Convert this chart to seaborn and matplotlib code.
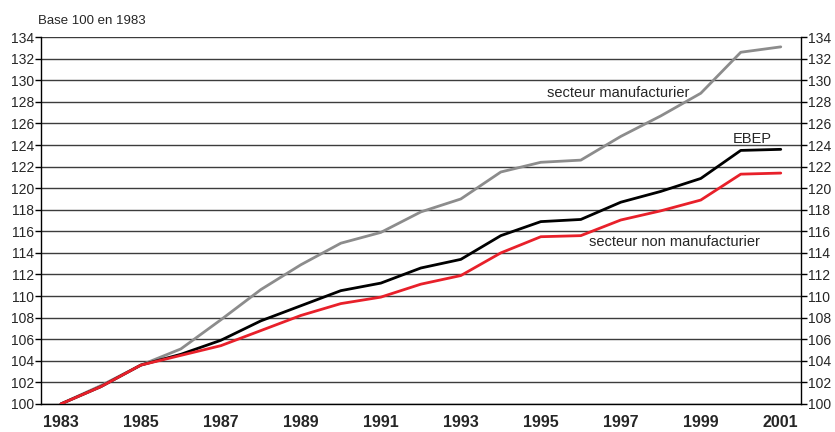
"""
plot.py
-------
Indices de croissance (base 100 en 1983) : EBEP et secteurs.
"""

import matplotlib

matplotlib.use("Agg")
import matplotlib.pyplot as plt
import pandas as pd
import seaborn as sns
from matplotlib.ticker import MultipleLocator

years = list(range(1983, 2002))
manufacturier = [100, 101.7, 103.6, 105.1, 107.8, 110.6, 112.9, 114.9, 115.9, 117.8,
                 119.0, 121.5, 122.4, 122.6, 124.8, 126.7, 128.8, 132.6, 133.1]
ebep = [100, 101.6, 103.6, 104.6, 105.9, 107.7, 109.1, 110.5, 111.2, 112.6,
        113.4, 115.6, 116.9, 117.1, 118.7, 119.7, 120.9, 123.5, 123.6]
non_manufacturier = [100, 101.6, 103.6, 104.5, 105.4, 106.8, 108.2, 109.3, 109.9, 111.1,
                     111.9, 114.0, 115.5, 115.6, 117.05, 117.9, 118.9, 121.3, 121.4]
series_names = ["secteur manufacturier", "EBEP", "secteur non manufacturier"]
colors = ["#8c8c8c", "#000000", "#e8202a"]
x_labels = [str(y) for y in range(1983, 2002, 2)]

sns.set_style("white")
plt.rcParams["font.family"] = ["Liberation Sans", "DejaVu Sans"]

df = pd.DataFrame({
    "annee": years * 3,
    "indice": manufacturier + ebep + non_manufacturier,
    "serie": [series_names[0]] * 19 + [series_names[1]] * 19 + [series_names[2]] * 19,
})

fig = plt.figure(figsize=(8.35, 4.32), dpi=100)
ax = fig.add_axes([0.049, 0.065, 0.910, 0.849])

# horizontal grid every 2 points
for y in range(100, 135, 2):
    ax.axhline(y, color="#3c3c3c", lw=1.0, zorder=1)

sns.lineplot(data=df, x="annee", y="indice", hue="serie", hue_order=series_names,
             palette=colors, linewidth=2.0, legend=False, ax=ax, zorder=3)

ax.set_xlim(1982.5, 2001.5)
ax.set_ylim(100, 134)
ax.yaxis.set_major_locator(MultipleLocator(2))
ax.set_xticks(range(1983, 2002, 2))
ax.set_xticklabels(x_labels, fontsize=11.5, fontweight="bold")
ax.set_xticks([y + 0.5 for y in range(1982, 2002)], minor=True)
ax.tick_params(axis="x", which="major", length=0, pad=8)
ax.tick_params(axis="x", which="minor", length=5, width=1, color="black", direction="out")
ax.tick_params(axis="y", which="major", length=4, width=1, color="black", direction="out",
               left=True, right=True, labelleft=True, labelright=True, labelsize=10, pad=1)
ax.set_xlabel("")
ax.set_ylabel("")

for side in ["left", "right", "bottom"]:
    ax.spines[side].set_color("black")
    ax.spines[side].set_linewidth(1.0)
ax.spines["top"].set_visible(False)

ax.text(1995.15, 128.8, "secteur manufacturier", fontsize=10.5, va="center", ha="left")
ax.text(1999.8, 124.6, "EBEP", fontsize=10.5, va="center", ha="left")
ax.text(1996.2, 115.0, "secteur non manufacturier", fontsize=10.5, va="center", ha="left")
fig.text(0.046, 0.952, "Base 100 en 1983", fontsize=9.5, ha="left", va="center")

fig.savefig("out.png", dpi=100)
plt.close(fig)
